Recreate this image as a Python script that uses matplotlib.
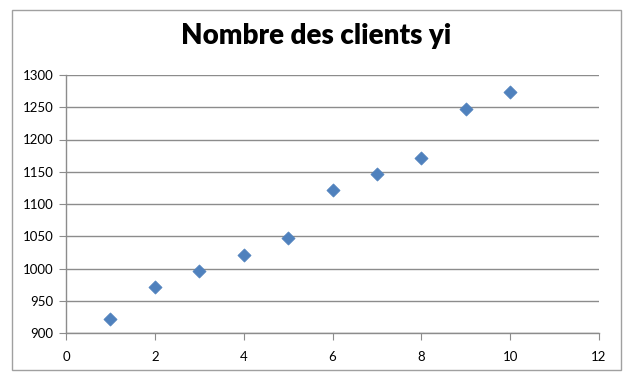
import matplotlib
matplotlib.use("Agg")
import matplotlib.pyplot as plt
from matplotlib.patches import Rectangle

x_values = [1, 2, 3, 4, 5, 6, 7, 8, 9, 10]
y_values = [922, 972, 996, 1021, 1047, 1122, 1146, 1172, 1247, 1273]
x_ticks = [0, 2, 4, 6, 8, 10, 12]
y_ticks = [900, 950, 1000, 1050, 1100, 1150, 1200, 1250, 1300]
title = "Nombre des clients yi"

W, H = 630, 381
fig = plt.figure(figsize=(W / 100, H / 100), dpi=100)
fig.patch.set_facecolor("white")

# chart area border
fig.patches.append(Rectangle((12 / W, 1 - 370 / H), (621 - 12) / W, (370 - 10) / H,
                             transform=fig.transFigure, fill=False,
                             edgecolor="#a0a0a0", linewidth=1.0))

ax = fig.add_axes([66 / W, 1 - 333 / H, (599 - 66) / W, (333 - 75) / H])
ax.scatter(x_values, y_values, marker="D", s=45, color="#4F81BD", zorder=3,
           edgecolors="#4F81BD", linewidths=0.5)

ax.set_xlim(0, 12)
ax.set_ylim(900, 1300)
ax.set_xticks(x_ticks)
ax.set_yticks(y_ticks)
ax.yaxis.grid(True, color="#8c8c8c", linewidth=1.0)
ax.set_axisbelow(True)
for s in ["top", "right"]:
    ax.spines[s].set_visible(False)
for s in ["left", "bottom"]:
    ax.spines[s].set_color("#8c8c8c")
    ax.spines[s].set_linewidth(1.0)
ax.tick_params(axis="both", direction="out", length=5, color="#8c8c8c",
               labelsize=9.5, labelcolor="black", pad=4)
for lbl in ax.get_xticklabels() + ax.get_yticklabels():
    lbl.set_family(["Lato", "DejaVu Sans"])
ax.tick_params(axis="x", pad=8)

fig.text(316 / W, 1 - 36 / H, title, ha="center", va="center",
         fontsize=20, fontweight="heavy", family=["Lato", "DejaVu Sans"])

fig.savefig("out.png", dpi=100)
